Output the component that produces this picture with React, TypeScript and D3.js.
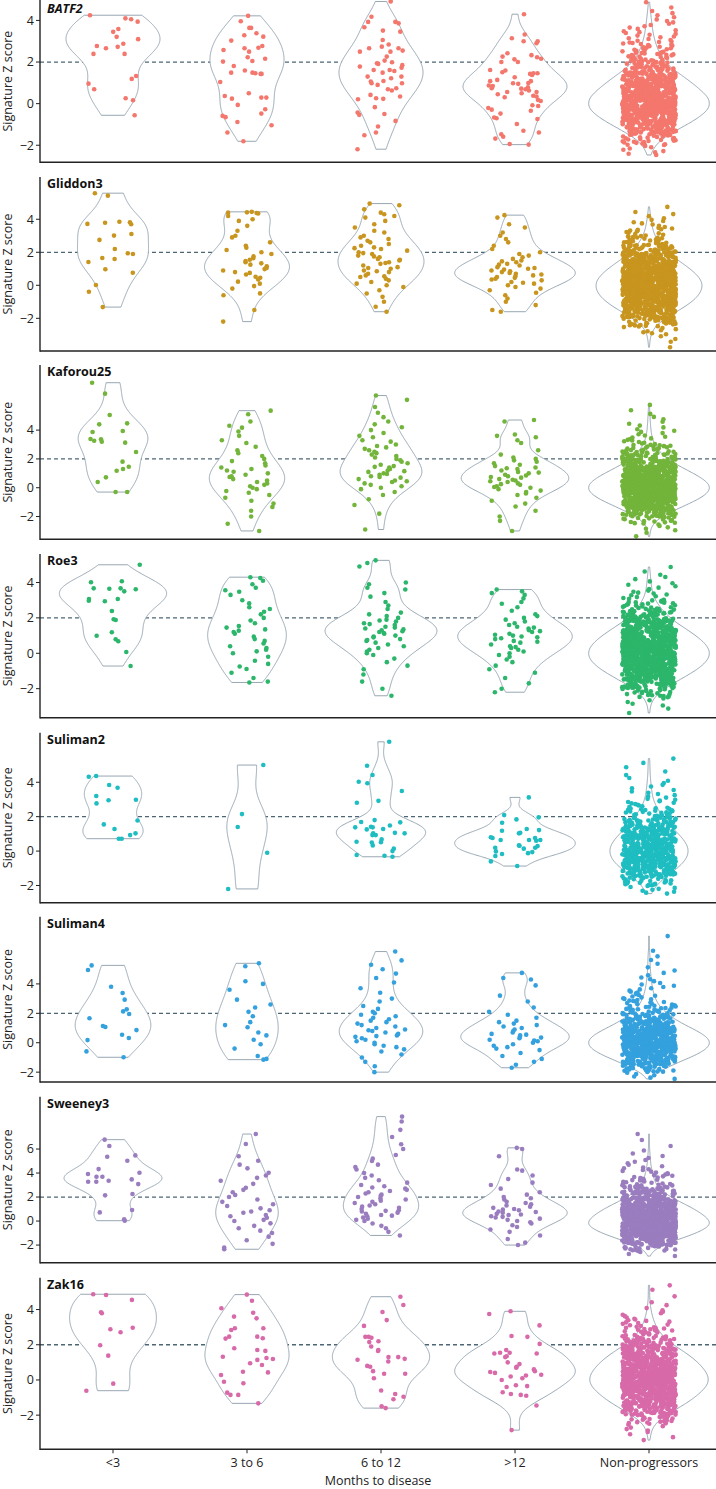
import React, { useMemo } from "react";
import * as d3 from "d3";

const W = 716;
const H = 1489;

const categories = ["<3", "3 to 6", "6 to 12", ">12", "Non-progressors"];
const signatureNames = ["BATF2", "Gliddon3", "Kaforou25", "Roe3", "Suliman2", "Suliman4", "Sweeney3", "Zak16"];
const italicTitle = [true, false, false, false, false, false, false, false];
const signatureColors = ["#F4776D", "#C8951F", "#73B43B", "#2CB66B", "#1EBDC1", "#34A1DE", "#9A7DBF", "#D86AA9"];
const yTickValues = [
  [-2, 0, 2, 4],
  [-2, 0, 2, 4],
  [-2, 0, 2, 4],
  [-2, 0, 2, 4],
  [-2, 0, 2, 4],
  [-2, 0, 2, 4],
  [-2, 0, 2, 4, 6],
  [-2, 0, 2, 4],
];
const thresholdScore = 2;
const yDomainMin = [-2.82, -3.98, -3.58, -3.64, -3.0, -2.67, -3.47, -3.94];
const yDomainMax = [5.03, 6.56, 8.52, 5.61, 6.88, 8.57, 10.36, 5.81];

// layout (pixels)
const panelTop = [-1, 177, 365, 554, 732.7, 916.7, 1096.7, 1277.7];
const panelBottom = [162.3, 351, 539.3, 717.7, 902.7, 1082, 1262.7, 1449.3];

// progressor signature scores: [<3, 3 to 6, 6 to 12, >12]
const batf2Scores = [
  [4.25, 4.1, 4.06, 3.94, 3.59, 3.45, 3.21, 3.1, 2.88, 2.77, 2.73, 2.66, 2.39, 2.39, 1.33, 1.19, 0.96, 0.69, 0.26, 0.16, -0.56],
  [4.22, 3.96, 3.64, 3.64, 3.38, 3.29, 3.22, 3.03, 2.77, 2.69, 2.66, 2.58, 2.5, 2.23, 2.16, 2.05, 2.02, 1.81, 1.59, 1.49, 1.49, 1.46, 1.43, 1.43, 1.04, 0.5, 0.37, 0.29, 0.29, 0.24, -0.06, -0.27, -0.48, -0.59, -0.65, -0.88, -1.04, -1.39, -1.81],
  [4.91, 4.18, 3.93, 3.93, 3.86, 3.67, 3.51, 3.46, 3.06, 2.84, 2.74, 2.66, 2.66, 2.55, 2.5, 2.5, 2.26, 2.07, 1.99, 1.94, 1.91, 1.85, 1.78, 1.73, 1.62, 1.62, 1.57, 1.49, 1.3, 1.3, 1.22, 1.09, 1.06, 0.98, 0.98, 0.9, 0.74, 0.69, 0.63, 0.42, 0.34, 0.26, 0.23, 0.21, -0.17, -0.43, -0.5, -0.54, -0.83, -1.1, -1.39, -1.52, -2.19],
  [4.3, 3.32, 3.14, 3.0, 3.0, 2.9, 2.42, 2.33, 2.26, 2.23, 2.16, 2.13, 2.0, 2.0, 1.62, 1.59, 1.51, 1.46, 1.46, 1.43, 1.38, 1.27, 1.14, 1.08, 1.08, 0.99, 0.98, 0.95, 0.87, 0.85, 0.79, 0.74, 0.72, 0.69, 0.63, 0.56, 0.56, 0.5, 0.45, 0.38, 0.34, 0.31, 0.18, 0.13, -0.08, -0.11, -0.21, -0.29, -0.34, -0.48, -0.67, -0.7, -0.74, -0.98, -1.3, -1.39, -1.47, -1.59, -1.68, -1.94, -1.97],
];
const gliddon3Scores = [
  [5.58, 5.43, 3.85, 3.82, 3.79, 3.72, 3.7, 3.11, 3.01, 2.75, 2.2, 1.94, 1.9, 1.65, 1.59, 1.41, 0.97, 0.76, 0.02, -0.39, -1.32],
  [4.45, 4.42, 4.4, 4.38, 4.35, 4.2, 4.0, 3.9, 3.6, 3.3, 3.0, 2.9, 2.6, 2.4, 2.28, 2.14, 2.0, 1.9, 1.75, 1.64, 1.55, 1.47, 1.4, 1.33, 1.25, 1.15, 1.05, 0.98, 0.9, 0.8, 0.75, 0.65, 0.52, 0.46, 0.35, 0.22, 0.1, -0.05, -0.2, -0.49, -0.6, -1.5, -2.2],
  [4.95, 4.85, 4.6, 4.4, 4.3, 4.2, 4.1, 3.9, 3.7, 3.5, 3.3, 3.2, 3.0, 2.9, 2.8, 2.7, 2.6, 2.5, 2.4, 2.3, 2.25, 2.2, 2.1, 2.0, 1.95, 1.9, 1.8, 1.75, 1.7, 1.6, 1.55, 1.5, 1.4, 1.35, 1.3, 1.2, 1.1, 1.05, 1.0, 0.9, 0.85, 0.8, 0.7, 0.6, 0.55, 0.5, 0.4, 0.3, 0.2, 0.1, 0.0, -0.1, -0.3, -0.5, -0.7, -1.0, -1.3, -1.6],
  [4.25, 4.1, 3.7, 3.5, 3.2, 3.0, 2.8, 2.6, 2.4, 2.2, 2.0, 1.9, 1.8, 1.7, 1.6, 1.5, 1.45, 1.4, 1.3, 1.25, 1.2, 1.1, 1.05, 1.0, 0.95, 0.9, 0.85, 0.8, 0.75, 0.7, 0.65, 0.6, 0.55, 0.5, 0.45, 0.4, 0.35, 0.3, 0.2, 0.15, 0.1, 0.0, -0.1, -0.2, -0.3, -0.45, -0.6, -0.8, -1.0, -1.2, -1.5, -1.6],
];
const kaforou25Scores = [
  [7.29, 6.53, 5.05, 4.47, 4.4, 3.94, 3.87, 3.38, 3.36, 3.26, 3.19, 3.13, 2.48, 1.81, 1.46, 1.3, 1.18, 0.72, 0.4, -0.3, -0.3],
  [5.35, 5.1, 4.6, 4.3, 4.17, 3.9, 3.6, 3.3, 3.1, 2.85, 2.6, 2.4, 2.2, 2.0, 1.85, 1.7, 1.55, 1.4, 1.3, 1.2, 1.11, 1.0, 0.9, 0.8, 0.74, 0.6, 0.5, 0.4, 0.3, 0.2, 0.1, 0.0, -0.1, -0.23, -0.35, -0.5, -0.7, -0.9, -1.1, -1.34, -1.6, -2.0, -2.5, -3.0],
  [6.4, 6.1, 5.6, 5.2, 4.9, 4.6, 4.4, 4.2, 4.0, 3.8, 3.6, 3.5, 3.3, 3.2, 3.0, 2.9, 2.8, 2.7, 2.6, 2.5, 2.4, 2.3, 2.2, 2.1, 2.0, 1.9, 1.8, 1.7, 1.6, 1.5, 1.45, 1.4, 1.3, 1.2, 1.15, 1.1, 1.0, 0.95, 0.9, 0.8, 0.75, 0.7, 0.6, 0.5, 0.45, 0.4, 0.3, 0.2, 0.1, 0.0, -0.1, -0.3, -0.5, -0.8, -1.2, -1.8, -2.9],
  [4.7, 4.6, 3.7, 3.6, 3.5, 3.3, 3.1, 2.6, 2.3, 2.1, 2.0, 1.9, 1.8, 1.7, 1.6, 1.5, 1.4, 1.35, 1.3, 1.2, 1.1, 1.05, 1.0, 0.9, 0.85, 0.8, 0.75, 0.7, 0.6, 0.55, 0.5, 0.45, 0.4, 0.3, 0.25, 0.2, 0.1, 0.05, 0.0, -0.1, -0.2, -0.3, -0.4, -0.5, -0.7, -0.9, -1.1, -1.3, -1.6, -2.0, -2.3, -3.0],
];
const roe3Scores = [
  [5.0, 4.07, 4.01, 3.67, 3.67, 3.65, 3.62, 3.5, 3.07, 3.07, 2.97, 2.94, 2.39, 1.92, 1.88, 1.19, 0.99, 0.79, 0.68, 0.07, -0.72],
  [4.3, 4.25, 4.1, 3.9, 3.7, 3.56, 3.48, 3.3, 3.0, 2.82, 2.6, 2.5, 2.35, 2.2, 2.0, 1.85, 1.7, 1.54, 1.45, 1.35, 1.28, 1.2, 1.1, 0.94, 0.8, 0.7, 0.55, 0.4, 0.3, 0.2, 0.11, 0.0, -0.2, -0.42, -0.6, -0.75, -0.89, -1.1, -1.4, -1.6, -1.65],
  [5.25, 5.1, 4.9, 4.0, 3.9, 3.7, 3.6, 3.4, 3.2, 2.9, 2.7, 2.5, 2.3, 2.2, 2.1, 2.0, 1.9, 1.85, 1.8, 1.7, 1.65, 1.6, 1.5, 1.45, 1.4, 1.35, 1.3, 1.25, 1.2, 1.15, 1.1, 1.0, 0.95, 0.9, 0.8, 0.75, 0.7, 0.6, 0.5, 0.4, 0.3, 0.2, 0.1, 0.0, -0.1, -0.3, -0.5, -0.7, -0.9, -1.2, -1.6, -2.0, -2.4],
  [3.6, 3.5, 3.4, 3.3, 3.1, 2.9, 2.8, 2.6, 2.4, 2.2, 2.1, 2.0, 1.9, 1.8, 1.7, 1.6, 1.5, 1.45, 1.4, 1.3, 1.25, 1.2, 1.1, 1.05, 1.0, 0.95, 0.9, 0.85, 0.8, 0.7, 0.65, 0.6, 0.5, 0.4, 0.35, 0.3, 0.2, 0.1, 0.0, -0.1, -0.2, -0.35, -0.5, -0.7, -0.9, -1.1, -1.4, -1.7, -2.0, -2.2],
];
const suliman2Scores = [
  [4.36, 4.32, 3.84, 3.68, 3.2, 2.98, 2.95, 2.77, 1.78, 1.55, 1.28, 1.03, 0.93, 0.72, 0.72],
  [5.0, 2.15, 1.4, -0.1, -2.2],
  [6.35, 4.96, 4.42, 4.03, 3.94, 3.49, 2.92, 2.81, 1.8, 1.69, 1.67, 1.49, 1.41, 1.38, 1.38, 1.28, 1.26, 1.06, 1.03, 1.03, 0.93, 0.93, 0.68, 0.54, 0.52, 0.5, 0.33, 0.14, 0.0, -0.23, -0.27, -0.33],
  [3.12, 2.09, 1.96, 1.84, 1.65, 1.28, 1.22, 1.18, 1.06, 1.03, 0.8, 0.76, 0.76, 0.64, 0.64, 0.64, 0.6, 0.33, 0.31, 0.29, 0.19, 0.19, 0.14, -0.02, -0.06, -0.12, -0.17, -0.29, -0.6, -0.87],
];
const suliman4Scores = [
  [5.26, 4.95, 3.81, 3.38, 2.93, 2.27, 2.13, 1.95, 1.66, 1.14, 1.07, 0.86, 0.54, 0.32, 0.18, -0.59, -0.99],
  [5.4, 5.2, 4.18, 4.0, 3.6, 2.93, 2.6, 2.4, 2.1, 1.8, 1.4, 1.2, 1.05, 0.7, 0.5, 0.2, -0.1, -0.4, -0.9, -1.1, -1.15],
  [6.2, 5.6, 5.3, 5.0, 4.7, 4.4, 4.1, 3.7, 3.4, 3.0, 2.8, 2.5, 2.3, 2.1, 2.0, 1.9, 1.8, 1.7, 1.6, 1.5, 1.4, 1.3, 1.2, 1.1, 1.0, 0.9, 0.85, 0.8, 0.7, 0.6, 0.5, 0.45, 0.4, 0.3, 0.2, 0.1, 0.0, -0.1, -0.2, -0.3, -0.45, -0.6, -0.8, -1.0, -1.3, -1.6, -2.0],
  [4.75, 4.4, 4.3, 3.9, 3.2, 2.8, 2.4, 2.1, 1.9, 1.7, 1.5, 1.4, 1.3, 1.2, 1.1, 1.0, 0.9, 0.8, 0.7, 0.6, 0.55, 0.5, 0.4, 0.35, 0.3, 0.2, 0.15, 0.1, 0.0, -0.1, -0.2, -0.3, -0.4, -0.5, -0.7, -0.9, -1.1, -1.3, -1.5, -1.7],
];
const sweeney3Scores = [
  [6.78, 6.25, 5.47, 5.36, 5.03, 4.33, 4.03, 3.92, 3.69, 3.69, 3.47, 3.36, 3.28, 3.28, 3.08, 2.25, 2.14, 0.92, 0.72, 0.14, 0.03],
  [7.25, 6.42, 5.4, 5.03, 4.7, 4.39, 4.03, 3.8, 3.6, 3.36, 3.1, 2.78, 2.6, 2.4, 2.17, 2.0, 1.8, 1.6, 1.4, 1.25, 1.06, 0.9, 0.8, 0.69, 0.5, 0.4, 0.28, 0.1, 0.0, -0.19, -0.4, -0.6, -0.8, -1.0, -1.3, -1.6, -1.9, -2.2, -2.35],
  [8.7, 8.3, 7.6, 7.0, 6.4, 6.0, 5.5, 5.2, 5.0, 4.7, 4.5, 4.3, 4.0, 3.8, 3.6, 3.4, 3.2, 3.0, 2.9, 2.8, 2.7, 2.6, 2.5, 2.4, 2.3, 2.2, 2.1, 2.0, 1.9, 1.8, 1.7, 1.6, 1.5, 1.4, 1.3, 1.2, 1.1, 1.0, 0.9, 0.85, 0.8, 0.7, 0.6, 0.5, 0.45, 0.4, 0.3, 0.2, 0.1, 0.0, -0.2, -0.4, -0.6, -0.9, -1.2],
  [6.1, 6.0, 5.4, 4.3, 4.2, 3.8, 3.5, 3.2, 3.0, 2.7, 2.4, 2.2, 2.0, 1.9, 1.8, 1.6, 1.5, 1.4, 1.3, 1.2, 1.1, 1.0, 0.95, 0.9, 0.8, 0.75, 0.7, 0.6, 0.55, 0.5, 0.4, 0.35, 0.3, 0.2, 0.1, 0.0, -0.1, -0.2, -0.35, -0.5, -0.7, -0.9, -1.2, -1.5, -1.8, -2.0],
];
const zak16Scores = [
  [4.87, 4.83, 4.55, 3.85, 3.79, 2.97, 2.88, 2.71, 1.97, 1.38, -0.21, -0.61],
  [4.85, 4.5, 4.07, 3.82, 3.6, 3.5, 2.94, 2.94, 2.84, 2.46, 2.46, 2.37, 2.35, 1.8, 1.7, 1.65, 1.32, 1.25, 1.19, 1.14, 0.95, 0.85, 0.47, 0.43, 0.28, -0.1, -0.19, -0.72, -0.85, -0.85, -1.33],
  [4.73, 4.26, 3.86, 3.4, 3.07, 2.45, 2.45, 2.4, 2.2, 2.15, 1.9, 1.7, 1.65, 1.3, 1.3, 1.2, 1.15, 1.05, 0.8, 0.75, 0.5, 0.35, 0.35, 0.1, -0.6, -0.8, -0.95, -1.1, -1.5, -1.6],
  [3.9, 3.75, 3.1, 2.5, 2.45, 2.05, 1.7, 1.55, 1.55, 1.5, 1.5, 1.35, 1.3, 1.0, 0.9, 0.75, 0.7, 0.6, 0.5, 0.45, 0.4, 0.3, 0.25, 0.2, 0.1, 0.0, -0.3, -0.35, -0.4, -0.7, -0.8, -0.85, -0.9, -1.45, -2.85],
];

// non-progressors: counts of scores per 0.5-wide bin, first bin starting at -4
const npBinStart = -4;
const npBinWidth = 0.5;
const batf2NonProg = [0, 0, 0, 8, 28, 75, 125, 160, 160, 130, 95, 55, 32, 20, 12, 8, 5, 2];
const gliddon3NonProg = [1, 3, 8, 28, 65, 105, 135, 150, 150, 130, 100, 65, 40, 22, 12, 7, 4, 1];
const kaforou25NonProg = [0, 2, 5, 18, 50, 90, 130, 155, 155, 130, 95, 60, 35, 20, 10, 6, 4, 3, 2, 1];
const roe3NonProg = [0, 2, 5, 22, 55, 95, 130, 150, 150, 130, 100, 65, 40, 22, 10, 6, 4, 2];
const suliman2NonProg = [0, 0, 0, 9, 24, 50, 75, 88, 88, 75, 55, 40, 24, 12, 7, 5, 3, 2, 2];
const suliman4NonProg = [0, 0, 0, 6, 28, 58, 90, 110, 110, 90, 62, 40, 24, 14, 9, 6, 4, 3, 2, 2, 1, 0, 1];
const sweeney3NonProg = [0, 0, 3, 18, 50, 95, 130, 150, 140, 120, 95, 65, 40, 24, 14, 10, 7, 4, 3, 2, 1, 1, 1];
const zak16NonProg = [0, 3, 6, 22, 55, 90, 115, 135, 135, 120, 100, 70, 40, 22, 12, 6, 3, 1, 2];

const progressorScores = [batf2Scores, gliddon3Scores, kaforou25Scores, roe3Scores, suliman2Scores, suliman4Scores, sweeney3Scores, zak16Scores];
const nonProgCounts = [batf2NonProg, gliddon3NonProg, kaforou25NonProg, roe3NonProg, suliman2NonProg, suliman4NonProg, sweeney3NonProg, zak16NonProg];

function expandCounts(counts: number[]): number[] {
  const out: number[] = [];
  counts.forEach((c, b) => {
    const lo = npBinStart + b * npBinWidth;
    for (let i = 0; i < c; i++) out.push(lo + ((i + 0.5) / c) * npBinWidth);
  });
  return out;
}

function bwNrd0(v: number[]): number {
  const s = d3.deviation(v) ?? 0;
  const sorted = [...v].sort(d3.ascending);
  const iqr = ((d3.quantileSorted(sorted, 0.75) ?? 0) - (d3.quantileSorted(sorted, 0.25) ?? 0)) / 1.34;
  let lo = Math.min(s, iqr);
  if (!(lo > 0)) lo = s > 0 ? s : Math.abs(sorted[0]) || 1;
  return 0.9 * lo * Math.pow(v.length, -0.2);
}

function density(v: number[], bw: number, at: number): number {
  let sum = 0;
  for (const x of v) {
    const z = (at - x) / bw;
    sum += Math.exp(-0.5 * z * z);
  }
  return sum / (v.length * bw * Math.sqrt(2 * Math.PI));
}

// deterministic integer hash -> horizontal jitter in [-1, 1)
function spread(k: number): number {
  let h = Math.imul(k + 1, 0x9e3779b1) >>> 0;
  h = (h ^ (h >>> 16)) >>> 0;
  h = Math.imul(h, 0x85ebca6b) >>> 0;
  h = (h ^ (h >>> 13)) >>> 0;
  h = Math.imul(h, 0xc2b2ae35) >>> 0;
  h = (h ^ (h >>> 16)) >>> 0;
  return (h / 4294967296) * 2 - 1;
}

const FONT = "'Open Sans', 'Liberation Sans', sans-serif";
const AXIS_X = 40;

export default function App() {
  const x = d3.scalePoint<string>().domain(categories).range([113, 649]);
  const step = x.step();
  const jitterHalf = 0.2 * step;
  const violinHalf = 0.45 * step;

  const panels = useMemo(() => {
    return signatureNames.map((name, p) => {
      const y = d3.scaleLinear().domain([yDomainMin[p], yDomainMax[p]]).range([panelBottom[p], panelTop[p]]);
      const groups = [...progressorScores[p], expandCounts(nonProgCounts[p])];
      const dens = groups.map((vals) => {
        const bw = bwNrd0(vals);
        const [lo, hi] = d3.extent(vals) as [number, number];
        const n = 200;
        return d3.range(n).map((i) => {
          const v = lo + ((hi - lo) * i) / (n - 1);
          return { v, d: density(vals, bw, v) };
        });
      });
      const maxD = d3.max(dens.flat(), (d) => d.d) ?? 1;
      const violins = dens.map((grid, g) => {
        const cx = x(categories[g]) as number;
        const area = d3
          .area<{ v: number; d: number }>()
          .y((d) => y(d.v))
          .x0((d) => cx - (d.d / maxD) * violinHalf)
          .x1((d) => cx + (d.d / maxD) * violinHalf);
        return area(grid) as string;
      });
      const points = groups.flatMap((vals, g) => {
        const cx = x(categories[g]) as number;
        const offset = p * 5000 + g * 1000;
        return vals.map((v, i) => ({ cx: cx + spread(i + offset) * jitterHalf, cy: y(v) }));
      });
      return { name, y, violins, points };
    });
  }, []);

  return (
    <svg
      width={W}
      height={H}
      viewBox={`0 0 ${W} ${H}`}
      style={{ position: "absolute", left: 0, top: 0, display: "block" }}
      fontFamily={FONT}
    >
      <rect width={W} height={H} fill="#ffffff" />
      {panels.map((pn, p) => {
        const top = Math.max(panelTop[p], 0);
        const bottom = panelBottom[p];
        const color = signatureColors[p];
        return (
          <g key={pn.name}>
            <line
              x1={AXIS_X}
              x2={W}
              y1={pn.y(thresholdScore)}
              y2={pn.y(thresholdScore)}
              stroke="#4C6676"
              strokeWidth={1.3}
              strokeDasharray="4 3"
            />
            {pn.violins.map((d, g) => (
              <path key={g} d={d} fill="#ffffff" stroke="#8C9DAA" strokeWidth={0.9} />
            ))}
            <g fill={color}>
              {pn.points.map((pt, i) => (
                <circle key={i} cx={pt.cx} cy={pt.cy} r={2.3} />
              ))}
            </g>
            <line x1={AXIS_X} x2={AXIS_X} y1={top} y2={bottom + 0.7} stroke="#222" strokeWidth={1.4} />
            <line x1={AXIS_X} x2={W} y1={bottom} y2={bottom} stroke="#222" strokeWidth={1.4} />
            {yTickValues[p].map((t) => (
              <g key={t}>
                <line x1={AXIS_X - 4} x2={AXIS_X} y1={pn.y(t)} y2={pn.y(t)} stroke="#222" strokeWidth={1} />
                <text x={AXIS_X - 6} y={pn.y(t)} dy="0.35em" textAnchor="end" fontSize={12.5} fill="#222">
                  {t < 0 ? `\u2212${Math.abs(t)}` : t}
                </text>
              </g>
            ))}
            <text
              x={47}
              y={p === 0 ? 13 : top + 11}
              fontSize={12.5}
              fontWeight={700}
              fontStyle={italicTitle[p] ? "italic" : "normal"}
              fill="#111"
            >
              {pn.name}
            </text>
            <text
              transform={`translate(12,${(top + bottom) / 2}) rotate(-90)`}
              textAnchor="middle"
              fontSize={12.5}
              fill="#222"
            >
              Signature Z score
            </text>
            {p === panels.length - 1 &&
              categories.map((c) => (
                <g key={c}>
                  <line x1={x(c)} x2={x(c)} y1={bottom} y2={bottom + 4} stroke="#222" strokeWidth={1} />
                  <text x={x(c)} y={bottom + 18} textAnchor="middle" fontSize={12.5} fill="#222">
                    {c}
                  </text>
                </g>
              ))}
          </g>
        );
      })}
      <text x={(AXIS_X + W) / 2} y={1485} textAnchor="middle" fontSize={12.5} fill="#222">
        Months to disease
      </text>
    </svg>
  );
}
